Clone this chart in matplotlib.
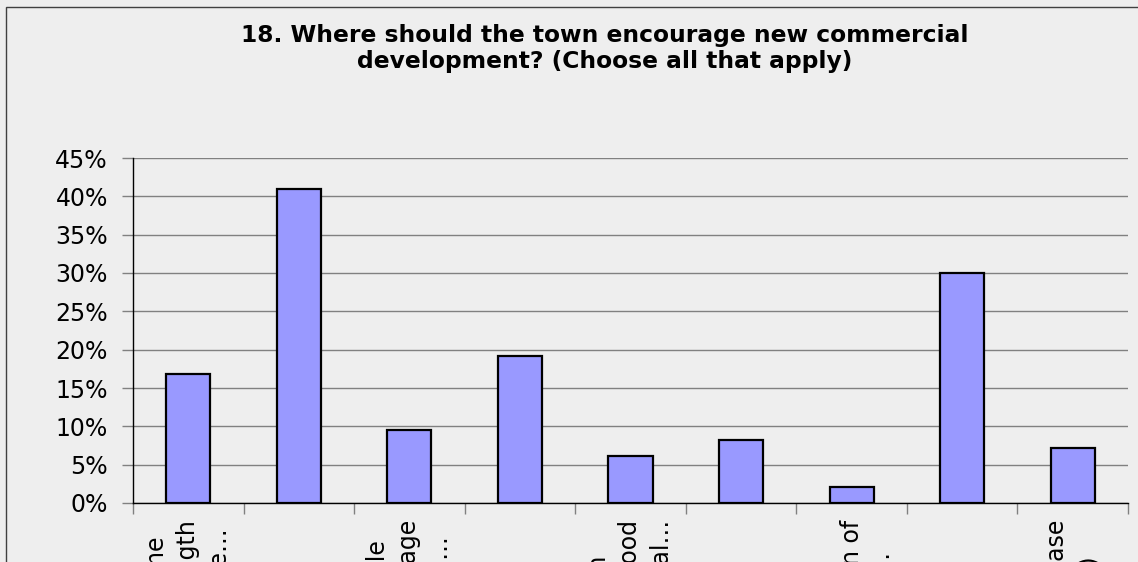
"""Bar chart of survey answers: where new commercial development should go"""

import matplotlib
matplotlib.use('Agg')
import matplotlib.pyplot as plt
from matplotlib.patches import Rectangle
from matplotlib.ticker import FixedLocator, PercentFormatter

TITLE = '18. Where should the town encourage new commercial\ndevelopment? (Choose all that apply)'

# Category labels as Excel shows them: wrapped, cut with an ellipsis
CATEGORIES = [
    'Spread around town near home\nbusinesses along the entire length\nof Main Street up to the Village…',
    'Along the Route 1 commercial strip',
    'In compact walkable village scale\nwith a mix of uses like the old village\ncenter right in the heart of town…',
    'In the existing industrial park',
    'Small shop in each\nresidential neighborhood\nserving residents\' local…',
    'Near the highway interchange',
    'Outside the village\non the edge of town at the junction of\nRoute 4 and Route 22, away fr…',
    'Nowhere - no new commercial development',
    'Other (please\nspecify)',
]
SHARES = [16.8, 40.9, 9.5, 19.2, 6.1, 8.2, 2.1, 30.0, 7.2]
Y_TICKS = [0, 5, 10, 15, 20, 25, 30, 35, 40, 45]

BG = '#eeeeee'
BAR_COLOR = '#9999ff'
GRID_COLOR = '#808080'

W, H, DPI = 1138, 562, 100

fig = plt.figure(figsize=(W / DPI, H / DPI), dpi=DPI, facecolor=BG)
ax = fig.add_axes([133 / W, (H - 503) / H, (1128 - 133) / W, 345 / H])
ax.set_facecolor(BG)

x = range(len(CATEGORIES))
ax.bar(x, SHARES, width=0.4, color=BAR_COLOR, edgecolor='black', linewidth=1.6, zorder=3)

ax.set_xlim(-0.5, len(CATEGORIES) - 0.5)
ax.set_ylim(0, 45)
ax.set_yticks(Y_TICKS)
ax.yaxis.set_major_formatter(PercentFormatter(decimals=0))
ax.grid(axis='y', color=GRID_COLOR, linewidth=1.0, zorder=0)

# only every other label fits, as in the original
ax.set_xticks(list(x))
ax.set_xticklabels([c if i % 2 == 0 else '' for i, c in enumerate(CATEGORIES)],
                   rotation=90, ha='center', va='top', multialignment='center',
                   linespacing=1.4, fontsize=17)
ax.tick_params(axis='x', which='major', length=0, pad=12)
ax.xaxis.set_minor_locator(FixedLocator([i - 0.5 for i in range(len(CATEGORIES) + 1)]))
ax.tick_params(axis='x', which='minor', length=8, width=1, color=GRID_COLOR, direction='out')
ax.tick_params(axis='y', length=8, width=1, color=GRID_COLOR, labelsize=17, pad=10)

for side in ('top', 'right'):
    ax.spines[side].set_visible(False)
for side in ('left', 'bottom'):
    ax.spines[side].set_color('black')
    ax.spines[side].set_linewidth(1.0)

fig.text(605 / W, 1 - 48.5 / H, TITLE, ha='center', va='center',
         fontsize=16.8, fontweight='bold', linespacing=1.16)

# chart area frame, cut off at the right and bottom like the screenshot
fig.patches.append(Rectangle((6 / W, -0.1), 1.2, 1.1 - 7 / H, transform=fig.transFigure,
                             fill=False, edgecolor='#404040', linewidth=1.0))

fig.savefig('out.png', dpi=DPI, facecolor=BG)
